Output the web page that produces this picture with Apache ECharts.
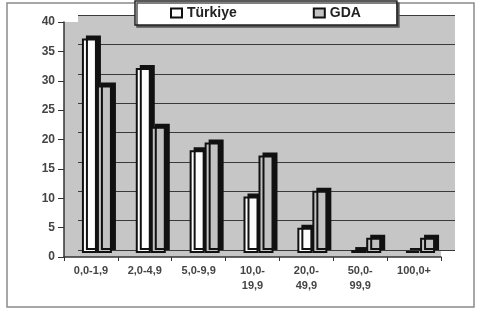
<!DOCTYPE html>
<html>
<head>
<meta charset="utf-8">
<script src="https://cdn.jsdelivr.net/npm/echarts@6/dist/echarts.min.js"></script>
<style>
  html, body { margin: 0; padding: 0; background: #fff; }
  #chart { width: 477px; height: 315px; }
</style>
</head>
<body>
<div id="chart"></div>
<script>
// sınıflar (ha)
const categories = ["0,0-1,9", "2,0-4,9", "5,0-9,9", "10,0-\n19,9", "20,0-\n49,9", "50,0-\n99,9", "100,0+"];
const turkiye = [36.5, 31.5, 17.5, 9.6, 4.3, 0.5, 0.3];
const gda = [28.5, 21.5, 18.8, 16.6, 10.6, 2.6, 2.6];
const yTicks = [0, 40, 5];

let myChart = echarts.init(document.getElementById("chart"));
myChart.setOption({
  animation: false,
  textStyle: { fontFamily: "Liberation Sans" },
  graphic: [
    {
      type: "rect",
      shape: { x: 7, y: 3, width: 467, height: 304 },
      style: { fill: "none", stroke: "#8a8a8a", lineWidth: 1.5 },
      z: -10
    }
  ],
  legend: {
    data: ["Türkiye", "GDA"],
    left: 135,
    top: 1,
    padding: [5, 36, 5, 35],
    itemGap: 76,
    icon: "rect",
    itemWidth: 11,
    itemHeight: 9,
    itemStyle: { borderColor: "#111", borderWidth: 2 },
    backgroundColor: "#fff",
    borderColor: "#222",
    borderWidth: 1.5,
    shadowColor: "#555",
    shadowOffsetX: 2,
    shadowOffsetY: 2,
    textStyle: { fontSize: 14, fontWeight: "bold", color: "#222" },
    z: 20
  },
  grid: [
    // arka duvar
    { left: 78, right: 22, top: 15, bottom: 65, show: true, backgroundColor: "#c6c6c6", borderWidth: 0 },
    // ön eksenler
    { left: 64, right: 36, top: 22, bottom: 58, show: true, backgroundColor: "#c6c6c6", borderWidth: 0, z: -1 },
    // sütunlar
    { left: 70, right: 30, top: 18, bottom: 62 }
  ],
  xAxis: [
    { gridIndex: 0, type: "category", data: categories, show: false },
    {
      gridIndex: 1,
      type: "category",
      data: categories,
      axisLine: { lineStyle: { color: "#333", width: 1.5 } },
      axisTick: { show: true, length: 4, lineStyle: { color: "#333" } },
      axisLabel: { interval: 0, color: "#444", fontSize: 11, fontWeight: "bold", margin: 6, lineHeight: 15 }
    },
    { gridIndex: 2, type: "category", data: categories, show: false }
  ],
  yAxis: [
    {
      gridIndex: 0, type: "value", min: yTicks[0], max: yTicks[1], interval: yTicks[2],
      axisLine: { show: false }, axisTick: { show: false }, axisLabel: { show: false },
      splitLine: { show: true, lineStyle: { color: "#3a3a3a", width: 1.2 } }
    },
    {
      gridIndex: 1, type: "value", min: yTicks[0], max: yTicks[1], interval: yTicks[2],
      axisLine: { show: true, lineStyle: { color: "#333", width: 1.5 } },
      axisTick: { show: true, length: 6, lineStyle: { color: "#333" } },
      axisLabel: { color: "#444", fontSize: 12, fontWeight: "bold", margin: 9 },
      splitLine: { show: false }
    },
    { gridIndex: 2, type: "value", min: yTicks[0], max: yTicks[1], interval: yTicks[2], show: false, splitLine: { show: false } }
  ],
  series: [
    {
      name: "Türkiye",
      type: "bar",
      xAxisIndex: 2,
      yAxisIndex: 2,
      data: turkiye,
      barWidth: 15,
      barGap: "0%",
      itemStyle: {
        color: "#fdfdfd",
        borderColor: "#111",
        borderWidth: 2,
        shadowColor: "#111",
        shadowBlur: 0,
        shadowOffsetX: 4,
        shadowOffsetY: -3
      }
    },
    {
      name: "GDA",
      type: "bar",
      xAxisIndex: 2,
      yAxisIndex: 2,
      data: gda,
      barWidth: 15,
      barGap: "0%",
      itemStyle: {
        color: "#c2c2c2",
        borderColor: "#111",
        borderWidth: 2,
        shadowColor: "#111",
        shadowBlur: 0,
        shadowOffsetX: 4,
        shadowOffsetY: -3
      }
    }
  ]
});
</script>
</body>
</html>
